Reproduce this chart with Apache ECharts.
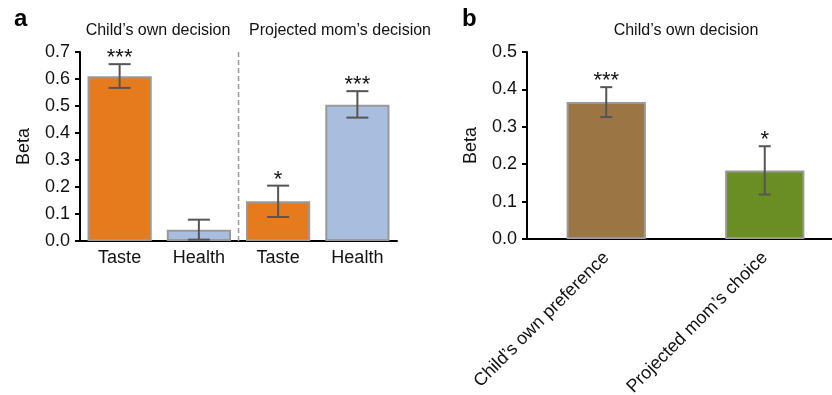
<!DOCTYPE html>
<html><head><meta charset="utf-8">
<script src="https://cdn.jsdelivr.net/npm/echarts@6/dist/echarts.min.js"></script>
<style>html,body{margin:0;padding:0;background:#fff}#c{width:832px;height:395px}</style>
</head><body><div id="c"></div>
<script>
// Panel a
const catsA = ['Taste', 'Health', 'Taste', 'Health'];
const valsA = [0.61, 0.042, 0.147, 0.505];
const loA = [0.567, 0.005, 0.089, 0.457];
const hiA = [0.655, 0.079, 0.205, 0.555];
const starsA = ['***', '', '*', '***'];
const colorsA = ['#E57B1C', '#A9BEDF', '#E57B1C', '#A9BEDF'];
const yTicksA = [0, 0.7, 0.1];
// Panel b
const catsB = ["Child\u2019s own preference", "Projected mom\u2019s choice"];
const valsB = [0.366, 0.183];
const loB = [0.326, 0.119];
const hiB = [0.406, 0.248];
const starsB = ['***', '*'];
const colorsB = ['#9C7545', '#6A8E23'];
const yTicksB = [0, 0.5, 0.1];

const FONT = '"Liberation Sans", Arial, Helvetica, sans-serif';

function errRender(cap) {
  return function (params, api) {
    const x = api.value(0);
    const pLo = api.coord([x, api.value(1)]);
    const pHi = api.coord([x, api.value(2)]);
    const st = { stroke: '#555', lineWidth: 2 };
    const children = [
      { type: 'line', shape: { x1: pLo[0], y1: pLo[1], x2: pHi[0], y2: pHi[1] }, style: st },
      { type: 'line', shape: { x1: pLo[0] - cap / 2, y1: pLo[1], x2: pLo[0] + cap / 2, y2: pLo[1] }, style: st },
      { type: 'line', shape: { x1: pHi[0] - cap / 2, y1: pHi[1], x2: pHi[0] + cap / 2, y2: pHi[1] }, style: st }
    ];
    return { type: 'group', children };
  };
}
function starRender(params, api) {
  const x = api.value(0);
  const p = api.coord([x, api.value(1)]);
  return { type: 'text', x: p[0], y: p[1] - 6, style: { text: api.value(2), fill: '#111', font: '22px ' + FONT, align: 'center', verticalAlign: 'middle' } };
}

const chart = echarts.init(document.getElementById('c'), null, { renderer: 'canvas' });
const axisLabelY = { color: '#111', fontSize: 18, fontFamily: FONT, margin: 10, formatter: v => v.toFixed(1) };
chart.setOption({
  animation: false,
  backgroundColor: '#fff',
  textStyle: { fontFamily: FONT },
  title: [
    { text: 'a', left: 9, top: 2, textStyle: { fontSize: 24, fontWeight: 'bold', color: '#000', fontFamily: FONT } },
    { text: 'b', left: 457, top: 2, textStyle: { fontSize: 24, fontWeight: 'bold', color: '#000', fontFamily: FONT } },
    { text: "Child\u2019s own decision", left: 153, top: 18, textAlign: 'center', textStyle: { fontSize: 16, fontWeight: 'normal', color: '#111', fontFamily: FONT } },
    { text: "Projected mom\u2019s decision", left: 335, top: 18, textAlign: 'center', textStyle: { fontSize: 16, fontWeight: 'normal', color: '#111', fontFamily: FONT } },
    { text: "Child\u2019s own decision", left: 681, top: 18, textAlign: 'center', textStyle: { fontSize: 16, fontWeight: 'normal', color: '#111', fontFamily: FONT } }
  ],
  grid: [
    { left: 80, right: 435, top: 52, bottom: 154, containLabel: false, outerBoundsMode: 'none' },
    { left: 527, width: 317, top: 52, bottom: 156, containLabel: false, outerBoundsMode: 'none' }
  ],
  xAxis: [
    { type: 'category', gridIndex: 0, data: catsA, axisLine: { lineStyle: { color: '#000', width: 2 } }, axisTick: { show: false },
      axisLabel: { color: '#111', fontSize: 18, fontFamily: FONT, margin: 8 } },
    { type: 'category', gridIndex: 1, data: catsB, axisLine: { lineStyle: { color: '#000', width: 2 } }, axisTick: { show: false },
      axisLabel: { color: '#111', fontSize: 18, fontFamily: FONT, rotate: 45, margin: 16 } }
  ],
  yAxis: [
    { type: 'value', gridIndex: 0, min: yTicksA[0], max: yTicksA[1], interval: yTicksA[2], name: 'Beta', nameLocation: 'middle', nameGap: 47,
      nameTextStyle: { fontSize: 18, color: '#111', fontFamily: FONT },
      axisLine: { show: true, lineStyle: { color: '#000', width: 2 } }, axisTick: { show: true, length: 5, lineStyle: { color: '#000', width: 2 } },
      splitLine: { show: false }, axisLabel: axisLabelY },
    { type: 'value', gridIndex: 1, min: yTicksB[0], max: yTicksB[1], interval: yTicksB[2], name: 'Beta', nameLocation: 'middle', nameGap: 47,
      nameTextStyle: { fontSize: 18, color: '#111', fontFamily: FONT },
      axisLine: { show: true, lineStyle: { color: '#000', width: 2 } }, axisTick: { show: true, length: 5, lineStyle: { color: '#000', width: 2 } },
      splitLine: { show: false }, axisLabel: axisLabelY }
  ],
  series: [
    { type: 'bar', xAxisIndex: 0, yAxisIndex: 0, barWidth: '81%',
      data: valsA.map((v, i) => ({ value: v, itemStyle: { color: colorsA[i], borderColor: '#999', borderWidth: 2 } })) },
    { type: 'bar', xAxisIndex: 1, yAxisIndex: 1, barWidth: '50%',
      data: valsB.map((v, i) => ({ value: v, itemStyle: { color: colorsB[i], borderColor: '#999', borderWidth: 2 } })) },
    { type: 'custom', xAxisIndex: 0, yAxisIndex: 0, renderItem: errRender(22), z: 5,
      data: valsA.map((v, i) => [i, loA[i], hiA[i]]) },
    { type: 'custom', xAxisIndex: 1, yAxisIndex: 1, renderItem: errRender(12), z: 5,
      data: valsB.map((v, i) => [i, loB[i], hiB[i]]) },
    { type: 'custom', xAxisIndex: 0, yAxisIndex: 0, renderItem: starRender, z: 6,
      data: valsA.map((v, i) => [i, hiA[i], starsA[i]]) },
    { type: 'custom', xAxisIndex: 1, yAxisIndex: 1, renderItem: starRender, z: 6,
      data: valsB.map((v, i) => [i, hiB[i], starsB[i]]) },
    { type: 'custom', xAxisIndex: 0, yAxisIndex: 0, z: 4,
      renderItem: function (params, api) {
        const a = api.coord([1, yTicksA[1]]);
        const b = api.coord([2, yTicksA[0]]);
        const x = (a[0] + b[0]) / 2;
        return { type: 'line', shape: { x1: x, y1: a[1], x2: x, y2: b[1] }, style: { stroke: '#999', lineWidth: 1.5, lineDash: [5, 3] } };
      },
      data: [[0, 0]] }
  ]
});
</script></body></html>
